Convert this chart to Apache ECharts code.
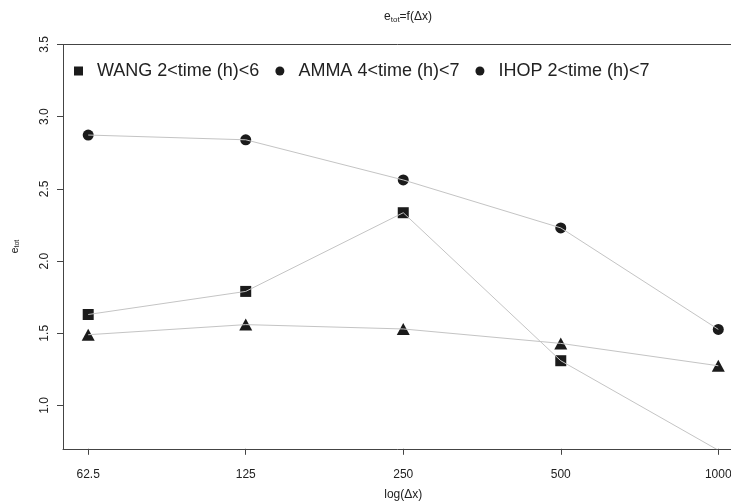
<!DOCTYPE html>
<html>
<head>
<meta charset="utf-8">
<script src="https://cdn.jsdelivr.net/npm/echarts@6/dist/echarts.min.js"></script>
<style>
html,body{margin:0;padding:0;background:#fff;}
#c{width:731px;height:504px;}
</style>
</head>
<body>
<div id="c"></div>
<script>
// Data
const dxValues = [62.5, 125, 250, 500, 1000];
const xTickLabels = ['62.5', '125', '250', '500', '1000'];
const yTicks = [1.0, 1.5, 2.0, 2.5, 3.0, 3.5];
const seriesNames = ['WANG 2<time (h)<6', 'AMMA 4<time (h)<7', 'IHOP 2<time (h)<7'];
const wang = [1.63, 1.79, 2.335, 1.31, 0.69];
const amma = [1.49, 1.56, 1.53, 1.43, 1.275];
const ihop = [2.873, 2.84, 2.562, 2.23, 1.527];

const FONT = 'Liberation Sans, Arial, Helvetica, sans-serif';
const xs = dxValues.map(v => Math.log2(v));
const pairs = arr => arr.map((v, i) => [xs[i], v]);
const xMin = Math.log2(dxValues[0]) - 0.16;
const xMax = Math.log2(dxValues[dxValues.length - 1]) + 0.16;

const markerColor = '#1b1b1b';
const lineColor = '#c4c4c4';
const axisColor = '#444';
const textColor = '#222';

function markerSeries(name, data, symbol, size) {
  return {
    name: name, type: 'line', data: pairs(data),
    symbol: symbol, symbolSize: size, showSymbol: true,
    lineStyle: { width: 0, opacity: 0 },
    itemStyle: { color: markerColor },
    clip: true, z: 2, animation: false
  };
}
function lineSeries(name, data) {
  return {
    name: name + ' line', type: 'line', data: pairs(data),
    showSymbol: false, symbol: 'none',
    lineStyle: { width: 1, color: lineColor },
    itemStyle: { color: lineColor },
    clip: true, z: 3, animation: false, silent: true
  };
}

const chart = echarts.init(document.getElementById('c'), null, { renderer: 'canvas' });
chart.setOption({
  backgroundColor: '#fff',
  animation: false,
  textStyle: { fontFamily: FONT },
  title: {
    text: '{a|e}{b|tot}{a|=f(Δx)}',
    left: 403, top: 5, textAlign: 'center',
    textStyle: {
      fontWeight: 'normal',
      rich: {
        a: { fontSize: 12, fontFamily: FONT, color: textColor, fontWeight: 'normal' },
        b: { fontSize: 8, fontFamily: FONT, color: textColor, fontWeight: 'normal', verticalAlign: 'bottom', padding: [6, 0, 0, 0] }
      }
    }
  },
  legend: {
    left: 69, top: 57,
    itemWidth: 9, itemHeight: 9, itemGap: 16,
    data: [
      { name: seriesNames[0], icon: 'rect' },
      { name: seriesNames[1], icon: 'circle' },
      { name: seriesNames[2], icon: 'circle' }
    ],
    textStyle: { fontSize: 18, fontFamily: FONT, color: textColor, padding: [0, 0, 0, 9] },
    itemStyle: { color: markerColor }
  },
  grid: {
    left: 63, top: 44.5, width: 680.5, height: 404.3,
    show: false, containLabel: false, outerBoundsMode: 'none'
  },
  xAxis: [{
    type: 'value', min: xMin, max: xMax,
    name: 'log(Δx)', nameLocation: 'middle', nameGap: 40,
    nameTextStyle: { fontSize: 12, fontFamily: FONT, color: textColor },
    axisLine: { show: true, lineStyle: { color: axisColor, width: 1 } },
    axisTick: { show: true, length: 6, inside: false, customValues: xs, lineStyle: { color: axisColor } },
    axisLabel: {
      customValues: xs, fontSize: 12, margin: 20, color: textColor, fontFamily: FONT,
      formatter: v => {
        const i = xs.findIndex(x => Math.abs(x - v) < 1e-6);
        return i >= 0 ? xTickLabels[i] : '';
      }
    },
    splitLine: { show: false }
  }, {
    type: 'value', min: xMin, max: xMax, position: 'top',
    axisLine: { show: true, onZero: false, lineStyle: { color: axisColor, width: 1 } },
    axisTick: { show: false }, axisLabel: { show: false }, splitLine: { show: false }
  }],
  yAxis: {
    type: 'value', min: 0.7, max: 3.5,
    name: '{a|e}{b|tot}', nameLocation: 'middle', nameGap: 42, nameRotate: 90,
    nameTextStyle: {
      rich: {
        a: { fontSize: 11, fontFamily: FONT, color: textColor },
        b: { fontSize: 7, fontFamily: FONT, color: textColor, verticalAlign: 'bottom', padding: [5, 0, 0, 0] }
      }
    },
    axisLine: { show: true, lineStyle: { color: axisColor, width: 1 } },
    axisTick: { show: true, length: 6, inside: false, customValues: yTicks, lineStyle: { color: axisColor } },
    axisLabel: {
      customValues: yTicks, rotate: 90, fontSize: 12, margin: 12, color: textColor, fontFamily: FONT,
      formatter: v => v.toFixed(1)
    },
    splitLine: { show: false }
  },
  series: [
    markerSeries(seriesNames[0], wang, 'rect', 11),
    markerSeries(seriesNames[1], amma, 'triangle', [13, 12]),
    markerSeries(seriesNames[2], ihop, 'circle', 11),
    lineSeries(seriesNames[0], wang),
    lineSeries(seriesNames[1], amma),
    lineSeries(seriesNames[2], ihop)
  ]
});
</script>
</body>
</html>
